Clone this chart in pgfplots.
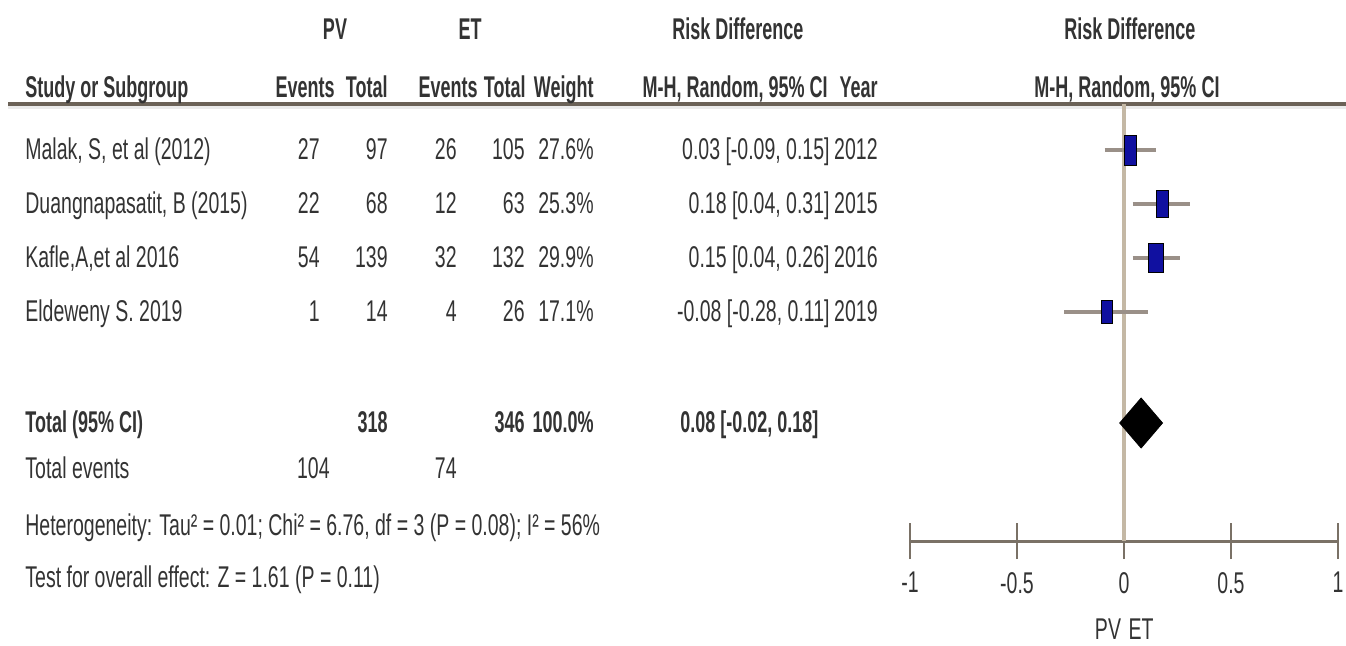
\documentclass[border=0pt]{standalone}
\usepackage{pgfplots}
\pgfplotsset{compat=1.18}
\usepackage{fontspec}
\setmainfont{Liberation Sans}[FakeStretch=0.65]
\newfontfamily\hdr{Liberation Sans}[FakeStretch=0.6]
\definecolor{txt}{HTML}{333333}
\definecolor{rule}{HTML}{6B6257}
\definecolor{zero}{HTML}{C4B8A5}
\definecolor{ci}{HTML}{9A9088}
\definecolor{box}{HTML}{1010A0}
\definecolor{axisc}{HTML}{7A7166}
\begin{document}
\begin{tikzpicture}
\path[use as bounding box] (0pt,0pt) rectangle (673pt,-322.5pt);
% all text placed in pixel units of the reference (1px = 0.5pt)
\begin{scope}[x=0.5pt, y=-0.5pt, every node/.style={font=\fontsize{15}{18}\selectfont, text=txt, inner sep=0pt}]
  \draw[rule, line width=1.7pt] (8,104) -- (1346,104);
  \draw[black!8, line width=1.5pt] (8,107.5) -- (1346,107.5);
  % header
  \begin{scope}[every node/.append style={font=\fontsize{15}{18}\selectfont\hdr\bfseries}]
    \node[anchor=base] at (335,39) {PV};
    \node[anchor=base] at (470,39) {ET};
    \node[anchor=base] at (738,39) {Risk Difference};
    \node[anchor=base] at (1130,39) {Risk Difference};
    \node[anchor=base west] at (25,97) {Study or Subgroup};
    \node[anchor=base east] at (335,97) {Events};
    \node[anchor=base east] at (388,97) {Total};
    \node[anchor=base east] at (478,97) {Events};
    \node[anchor=base east] at (526,97) {Total};
    \node[anchor=base east] at (594,97) {Weight};
    \node[anchor=base east] at (828,97) {M-H, Random, 95\% CI};
    \node[anchor=base east] at (878,97) {Year};
    \node[anchor=base] at (1127,97) {M-H, Random, 95\% CI};
  \end{scope}
  % study rows
  \foreach \yy/\name/\a/\b/\c/\d/\w/\ci/\yr in {
      159/{Malak, S, et al (2012)}/27/97/26/105/27.6\%/{0.03 [-0.09, 0.15]}/2012,
      213/{Duangnapasatit, B (2015)}/22/68/12/63/25.3\%/{0.18 [0.04, 0.31]}/2015,
      267/{Kafle,A,et al 2016}/54/139/32/132/29.9\%/{0.15 [0.04, 0.26]}/2016,
      321/{Eldeweny S. 2019}/1/14/4/26/17.1\%/{-0.08 [-0.28, 0.11]}/2019} {
    \node[anchor=base west] at (25,\yy) {\name};
    \node[anchor=base east] at (320,\yy) {\a};
    \node[anchor=base east] at (388,\yy) {\b};
    \node[anchor=base east] at (457,\yy) {\c};
    \node[anchor=base east] at (525,\yy) {\d};
    \node[anchor=base east] at (594,\yy) {\w};
    \node[anchor=base east] at (830,\yy) {\ci};
    \node[anchor=base east] at (878,\yy) {\yr};
  }
  % totals
  \begin{scope}[every node/.append style={font=\fontsize{15}{18}\selectfont\hdr\bfseries}]
    \node[anchor=base west] at (25,432) {Total (95\% CI)};
    \node[anchor=base east] at (388,432) {318};
    \node[anchor=base east] at (525,432) {346};
    \node[anchor=base east] at (594,432) {100.0\%};
    \node[anchor=base west] at (680,432) {0.08 [-0.02, 0.18]};
  \end{scope}
  \node[anchor=base west] at (25,478) {Total events};
  \node[anchor=base east] at (330,478) {104};
  \node[anchor=base east] at (457,478) {74};
  \node[anchor=base west] at (25,535) {Heterogeneity: Tau² = 0.01; Chi² = 6.76, df = 3 (P = 0.08); I² = 56\%};
  \node[anchor=base west] at (25,587) {Test for overall effect: Z = 1.61 (P = 0.11)};
  \node[anchor=base] at (1108,639) {PV};
  \node[anchor=base] at (1141,639) {ET};
\end{scope}

\begin{axis}[
    at={(455pt,-52pt)}, anchor=north west,
    scale only axis, width=214pt, height=218.5pt,
    xmin=-1, xmax=1, ymin=-541, ymax=-104,
    axis x line*=bottom, axis y line=none,
    x axis line style={axisc, line width=1.5pt},
    xtick={-1,-0.5,0,0.5,1},
    xticklabels={-1,-0.5,0,0.5,1},
    tick align=center, major tick length=18pt,
    tick style={axisc, line width=1.1pt},
    xticklabel style={font=\fontsize{15}{18}\selectfont, text=txt, yshift=-3pt},
    clip=false,
  ]
  % line of no effect
  \addplot[zero, line width=2pt] coordinates {(0,-104) (0,-541)};
  % confidence intervals
  \addplot[ci, line width=2pt] coordinates {(-0.09,-150) (0.15,-150)};
  \addplot[ci, line width=2pt] coordinates {(0.04,-204) (0.31,-204)};
  \addplot[ci, line width=2pt] coordinates {(0.04,-258) (0.26,-258)};
  \addplot[ci, line width=2pt] coordinates {(-0.28,-312) (0.11,-312)};
  % study estimates, box size by weight
  \addplot[only marks, mark=square*, mark size=7.5pt, mark options={fill=box, draw=none, xscale=0.42}] coordinates {(0.03,-150)};
  \addplot[only marks, mark=square*, mark size=6.8pt, mark options={fill=box, draw=none, xscale=0.45}] coordinates {(0.18,-204)};
  \addplot[only marks, mark=square*, mark size=7.2pt, mark options={fill=box, draw=none, xscale=0.52}] coordinates {(0.15,-258)};
  \addplot[only marks, mark=square*, mark size=5.8pt, mark options={fill=box, draw=none, xscale=0.48}] coordinates {(-0.08,-312)};
  % pooled estimate
  \addplot[fill=black, draw=black] coordinates {(-0.02,-423) (0.08,-398) (0.18,-423) (0.08,-448)} -- cycle;
\end{axis}
\end{tikzpicture}
\end{document}
